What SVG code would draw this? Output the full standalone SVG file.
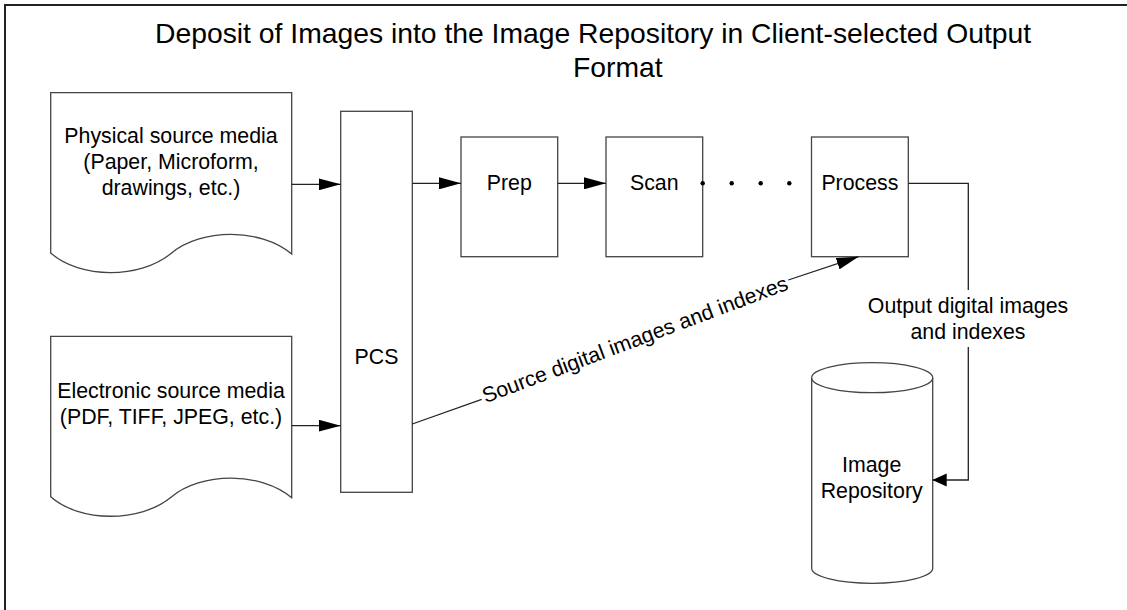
<svg xmlns="http://www.w3.org/2000/svg" width="1127" height="610" viewBox="0 0 1127 610">
<style>
.t{font-family:"Liberation Sans",Arial,sans-serif;font-size:21.33px;fill:#000;text-anchor:middle}
.title{font-family:"Liberation Sans",Arial,sans-serif;font-size:28.3px;fill:#000}
.shape{fill:#fff;stroke:#444;stroke-width:1.3}
.conn{fill:none;stroke:#222;stroke-width:1.3}
</style>
<defs>
<marker id="ah" markerWidth="22" markerHeight="12" refX="22" refY="6" orient="auto" markerUnits="userSpaceOnUse">
<path d="M0,0 L22,6 L0,12 Z" fill="#000"/>
</marker>
<marker id="ahs" markerWidth="14" markerHeight="14" refX="14" refY="7" orient="auto" markerUnits="userSpaceOnUse">
<path d="M0,0.5 L14,7 L0,13.5 Z" fill="#000"/>
</marker>
</defs>
<rect x="5" y="5" width="1200" height="700" fill="#fff" stroke="#222" stroke-width="2"/>
<g id="title">
<text class="title" x="155" y="43">Deposit of Images into the Image Repository in Client-selected Output</text>
<text class="title" x="573" y="77">Format</text>
</g>
<g id="physical">
<path class="shape" d="M50.7,92.7 H291.7 V254 C261,228 201,228 171,253.5 C140,279 80,279 50.7,253 Z"/>
<text class="t" x="171" y="143">Physical source media</text>
<text class="t" x="171" y="169">(Paper, Microform,</text>
<text class="t" x="171" y="195">drawings, etc.)</text>
</g>
<g id="electronic">
<path class="shape" d="M50.7,336.4 H291.7 V497.7 C261,471.7 201,471.7 171,497.2 C140,522.7 80,522.7 50.7,496.7 Z"/>
<text class="t" x="171" y="398">Electronic source media</text>
<text class="t" x="171" y="424">(PDF, TIFF, JPEG, etc.)</text>
</g>
<g id="pcs">
<rect class="shape" x="340.7" y="111.3" width="71.6" height="381"/>
<text class="t" x="376.5" y="364">PCS</text>
</g>
<g id="prep">
<rect class="shape" x="461" y="137" width="96.7" height="119.7"/>
<text class="t" x="509.3" y="190">Prep</text>
</g>
<g id="scan">
<rect class="shape" x="606" y="137" width="96.7" height="119.7"/>
<text class="t" x="654.3" y="190">Scan</text>
</g>
<g id="process">
<rect class="shape" x="811.5" y="137" width="96.8" height="119.7"/>
<text class="t" x="859.9" y="190">Process</text>
</g>
<g id="repository">
<path class="shape" d="M811.7,377.7 A60.5,15 0 0 1 932.7,377.7 V568.3 A60.5,15 0 0 1 811.7,568.3 Z"/>
<path class="shape" fill="none" d="M811.7,377.7 A60.5,15 0 0 0 932.7,377.7"/>
<text class="t" x="871.7" y="472">Image</text>
<text class="t" x="871.7" y="498">Repository</text>
</g>
<g id="connectors">
<line class="conn" x1="291.7" y1="184.3" x2="340.7" y2="184.3" marker-end="url(#ah)"/>
<line class="conn" x1="291.7" y1="425.7" x2="340.7" y2="425.7" marker-end="url(#ah)"/>
<line class="conn" x1="412.3" y1="183.3" x2="461" y2="183.3" marker-end="url(#ah)"/>
<line class="conn" x1="557.7" y1="183.3" x2="606" y2="183.3" marker-end="url(#ah)"/>
<g fill="#000">
<circle cx="702.7" cy="183.3" r="2.2"/>
<circle cx="731.7" cy="183.3" r="2.2"/>
<circle cx="760.7" cy="183.3" r="2.2"/>
<circle cx="789.3" cy="183.3" r="2.2"/>
</g>
<line class="conn" x1="412.3" y1="424" x2="481.7" y2="399.3"/>
<line class="conn" x1="788.3" y1="280" x2="858.5" y2="256.7" marker-end="url(#ah)"/>
<text class="t" transform="translate(635,339.7) rotate(-20.57)" x="0" y="7">Source digital images and indexes</text>
<polyline class="conn" points="908.3,183.3 968.3,183.3 968.3,290"/>
<polyline class="conn" points="968.3,347 968.3,480 932.7,480" marker-end="url(#ahs)"/>
<text class="t" x="968" y="313">Output digital images</text>
<text class="t" x="968" y="338.5">and indexes</text>
</g>
</svg>
